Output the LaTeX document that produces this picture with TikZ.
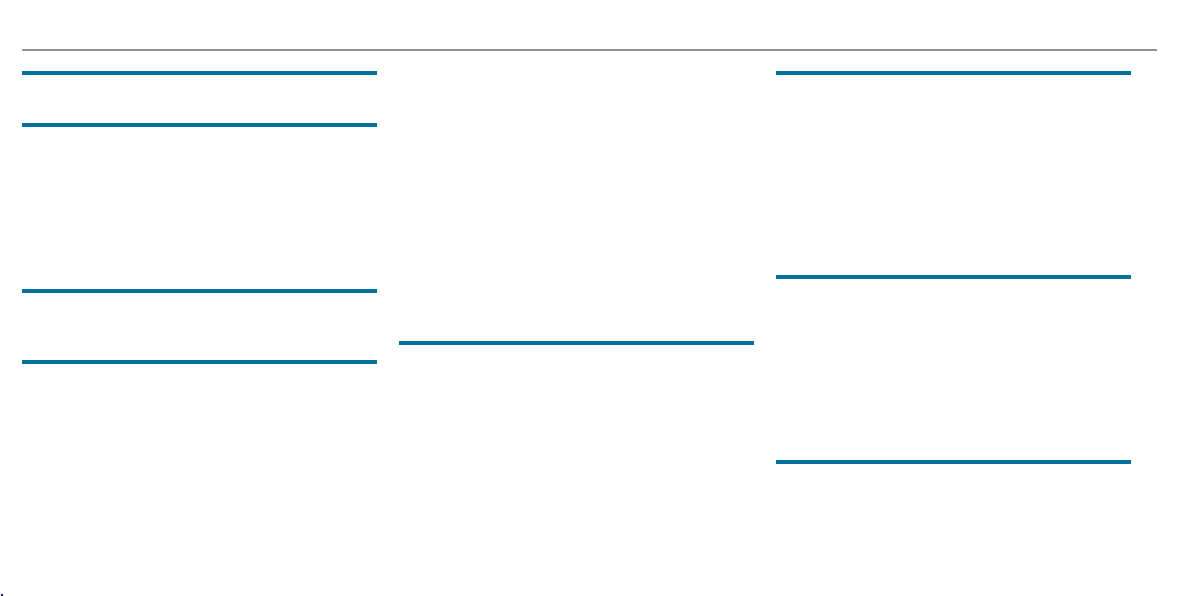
\documentclass[tikz,border=0pt]{standalone}
\definecolor{rulegray}{RGB}{144,144,144}
\definecolor{ruleblue}{RGB}{0,112,160}
\definecolor{markdark}{RGB}{20,40,90}
\tikzset{
  toprule/.style={draw=rulegray, line width=2pt},
  bluerule/.style={draw=ruleblue, line width=4pt},
}
\begin{document}
\begin{tikzpicture}[x=1pt,y=-1pt]
\useasboundingbox[fill=white] (0,0) rectangle (1192,596);
% top grey rule
\draw[toprule] (22,50.5) -- (1157,50.5);
% left column
\draw[bluerule] (22,73) -- (377,73);
\draw[bluerule] (22,125) -- (377,125);
\draw[bluerule] (22,291) -- (377,291);
\draw[bluerule] (22,362) -- (377,362);
% middle column
\draw[bluerule] (399,343) -- (754,343);
% right column
\draw[bluerule] (776,73) -- (1131,73);
\draw[bluerule] (776,277) -- (1131,277);
\draw[bluerule] (776,462) -- (1131,462);
% small mark bottom-left
\fill[markdark] (1,594) rectangle (3,596);
\end{tikzpicture}
\end{document}
